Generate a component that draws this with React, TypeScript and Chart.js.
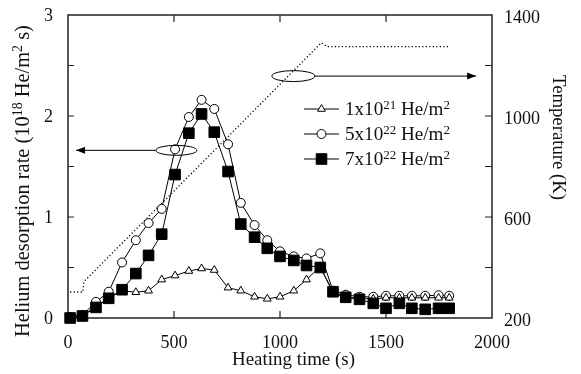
import React, { useEffect, useRef } from 'react';
import { Chart, registerables } from 'chart.js';

Chart.register(...registerables);

// Heating time (s) at which each desorption point was measured
const times = [10, 68, 132, 192, 255, 320, 380, 442, 505, 570, 630, 690, 755, 815, 880, 940, 1000, 1065, 1125, 1190, 1250, 1310, 1375, 1440, 1500, 1563, 1622, 1685, 1748, 1798];

// Helium desorption rate (10^18 He/m^2 s)
const lowFluence = [0.01, 0.03, 0.11, 0.2, 0.27, 0.255, 0.27, 0.38, 0.42, 0.465, 0.49, 0.475, 0.3, 0.27, 0.21, 0.19, 0.21, 0.27, 0.38, 0.51, 0.25, 0.2, 0.2, 0.19, 0.2, 0.2, 0.2, 0.2, 0.2, 0.2];
const midFluence = [0.01, 0.03, 0.16, 0.26, 0.55, 0.77, 0.94, 1.08, 1.67, 1.99, 2.16, 2.07, 1.72, 1.14, 0.92, 0.77, 0.66, 0.61, 0.59, 0.64, 0.27, 0.23, 0.21, 0.21, 0.22, 0.22, 0.22, 0.22, 0.225, 0.22];
const highFluence = [0.0, 0.02, 0.105, 0.195, 0.28, 0.44, 0.62, 0.83, 1.42, 1.83, 2.02, 1.84, 1.45, 0.93, 0.8, 0.69, 0.61, 0.57, 0.52, 0.5, 0.26, 0.205, 0.185, 0.145, 0.096, 0.145, 0.096, 0.086, 0.096, 0.096];

// Temperature (K) profile
const tempTimes = [10, 70, 75, 1195, 1222, 1795];
const tempValues = [303, 303, 344, 1290, 1275, 1275];

// Legend entries: [base, superscript, base, superscript]
const legendLabels = [
  ['1x10', '21', ' He/m', '2'],
  ['5x10', '22', ' He/m', '2'],
  ['7x10', '22', ' He/m', '2'],
];

const xTitle = 'Heating time (s)';
const yTitleParts = [['Helium desorption rate (10', false], ['18', true], [' He/m', false], ['2', true], [' s)', false]];
const y2Title = 'Temperature (K)';

// Annotation anchors (data units)
const leftMarker = { x: 511, y: 1.66, arrowTo: 38 };
const rightMarker = { x: 1063, y: 1158, arrowTo: 1925 };

const FONT = '"Liberation Serif", "Times New Roman", serif';
const INK = '#111';
const SUP = 0.68;

type Part = [string, boolean];

function richWidth(ctx: CanvasRenderingContext2D, parts: Part[], size: number) {
  let w = 0;
  for (const [t, sup] of parts) {
    ctx.font = `${sup ? size * SUP : size}px ${FONT}`;
    w += ctx.measureText(t).width;
  }
  return w;
}

// font size that makes the rich text span the wanted width
function fitSize(ctx: CanvasRenderingContext2D, parts: Part[], target: number) {
  const w = richWidth(ctx, parts, 20);
  return (20 * target) / w;
}

function drawRich(ctx: CanvasRenderingContext2D, parts: Part[], x: number, y: number, size: number) {
  let cx = x;
  ctx.textBaseline = 'alphabetic';
  ctx.textAlign = 'left';
  for (const [t, sup] of parts) {
    ctx.font = `${sup ? size * SUP : size}px ${FONT}`;
    ctx.fillText(t, cx, sup ? y - size * 0.33 : y);
    cx += ctx.measureText(t).width;
  }
}

function drawMarker(ctx: CanvasRenderingContext2D, style: string, x: number, y: number, r: number, fill: string) {
  ctx.beginPath();
  if (style === 'circle') {
    ctx.arc(x, y, r, 0, Math.PI * 2);
  } else if (style === 'rect') {
    const s = Math.SQRT1_2 * r;
    ctx.rect(x - s, y - s, 2 * s, 2 * s);
  } else {
    let rad = 0;
    ctx.moveTo(x + Math.sin(rad) * r, y - Math.cos(rad) * r);
    rad += (2 * Math.PI) / 3;
    ctx.lineTo(x + Math.sin(rad) * r, y - Math.cos(rad) * r);
    rad += (2 * Math.PI) / 3;
    ctx.lineTo(x + Math.sin(rad) * r, y - Math.cos(rad) * r);
    ctx.closePath();
  }
  ctx.fillStyle = fill;
  ctx.fill();
  ctx.lineWidth = 1;
  ctx.strokeStyle = '#000';
  ctx.stroke();
}

function arrow(ctx: CanvasRenderingContext2D, x0: number, x1: number, y: number) {
  ctx.beginPath();
  ctx.moveTo(x0, y);
  ctx.lineTo(x1, y);
  ctx.lineWidth = 1;
  ctx.strokeStyle = '#000';
  ctx.stroke();
  const dir = x1 > x0 ? 1 : -1;
  ctx.beginPath();
  ctx.moveTo(x1, y);
  ctx.lineTo(x1 - dir * 9, y - 3.5);
  ctx.lineTo(x1 - dir * 9, y + 3.5);
  ctx.closePath();
  ctx.fillStyle = '#000';
  ctx.fill();
}

const framePlugin = {
  id: 'frameAndDecor',
  beforeDatasetsDraw(chart: any) {
    const { ctx, chartArea: a, scales } = chart;
    ctx.save();
    ctx.strokeStyle = '#222';
    ctx.lineWidth = 1.5;
    ctx.strokeRect(a.left, a.top, a.right - a.left, a.bottom - a.top);
    ctx.lineWidth = 1.2;
    ctx.beginPath();
    for (let v = 0.5; v < 3; v += 0.5) {
      const y = scales.y.getPixelForValue(v);
      ctx.moveTo(a.left, y);
      ctx.lineTo(a.left + 6, y);
    }
    for (let v = 400; v < 1400; v += 200) {
      const y = scales.y2.getPixelForValue(v);
      ctx.moveTo(a.right, y);
      ctx.lineTo(a.right - 7, y);
    }
    for (let v = 500; v < 2000; v += 500) {
      const x = scales.x.getPixelForValue(v);
      ctx.moveTo(x, a.bottom);
      ctx.lineTo(x, a.bottom - 7);
      ctx.moveTo(x, a.top);
      ctx.lineTo(x, a.top + 7);
    }
    ctx.stroke();
    ctx.restore();
  },
  afterDatasetsDraw(chart: any) {
    const { ctx, scales } = chart;
    ctx.save();
    ctx.fillStyle = INK;

    // axis titles
    const xParts: Part[] = [[xTitle, false]];
    const xs = fitSize(ctx, xParts, 123);
    const xw = richWidth(ctx, xParts, xs);
    drawRich(ctx, xParts, 293.5 - xw / 2, 365, xs);

    ctx.save();
    ctx.translate(28.5, 181);
    ctx.rotate(-Math.PI / 2);
    const yParts = yTitleParts as Part[];
    const ys = fitSize(ctx, yParts, 312);
    const yw = richWidth(ctx, yParts, ys);
    drawRich(ctx, yParts, -yw / 2, 0, ys);
    ctx.restore();

    ctx.save();
    ctx.translate(553, 137.5);
    ctx.rotate(Math.PI / 2);
    const rParts: Part[] = [[y2Title, false]];
    const rs = fitSize(ctx, rParts, 125);
    const rw = richWidth(ctx, rParts, rs);
    drawRich(ctx, rParts, -rw / 2, 0, rs);
    ctx.restore();

    // annotation ellipses with arrows
    const lx = scales.x.getPixelForValue(leftMarker.x);
    const ly = scales.y.getPixelForValue(leftMarker.y);
    ctx.beginPath();
    ctx.ellipse(lx, ly, 20.5, 5, 0, 0, Math.PI * 2);
    ctx.lineWidth = 1;
    ctx.strokeStyle = '#000';
    ctx.stroke();
    arrow(ctx, lx - 20.5, scales.x.getPixelForValue(leftMarker.arrowTo), ly);

    const rx = scales.x.getPixelForValue(rightMarker.x);
    const ry = scales.y2.getPixelForValue(rightMarker.y);
    ctx.beginPath();
    ctx.ellipse(rx, ry, 21.5, 5.5, 0, 0, Math.PI * 2);
    ctx.stroke();
    arrow(ctx, rx + 21.5, scales.x.getPixelForValue(rightMarker.arrowTo), ry);

    // legend
    const styles = [['triangle', '#fff', 4.5], ['circle', '#fff', 4.5], ['rect', '#000', 7.5]] as const;
    const rows = [109, 134, 159];
    const legParts = (lab: string[]): Part[] => [[lab[0], false], [lab[1], true], [lab[2], false], [lab[3], true]];
    const ls = fitSize(ctx, legParts(legendLabels[0]), 105);
    legendLabels.forEach((lab, i) => {
      const y = rows[i];
      ctx.beginPath();
      ctx.moveTo(304, y);
      ctx.lineTo(339, y);
      ctx.lineWidth = 1;
      ctx.strokeStyle = '#000';
      ctx.stroke();
      drawMarker(ctx, styles[i][0], 321.5, y, styles[i][2], styles[i][1]);
      ctx.fillStyle = INK;
      drawRich(ctx, legParts(lab), 345, y + 6, ls);
    });
    ctx.restore();
  },
};

const zeroPad = (s: any) => {
  s.paddingTop = 0;
  s.paddingBottom = 0;
  s.paddingLeft = 0;
  s.paddingRight = 0;
};

export default function App() {
  const canvasRef = useRef<HTMLCanvasElement | null>(null);

  useEffect(() => {
    document.body.style.margin = '0';
    const canvas = canvasRef.current;
    if (!canvas) return;
    const toPts = (vals: number[]) => times.map((t, i) => ({ x: t, y: vals[i] }));
    const tickFont = { family: FONT, size: 18 };
    const plain = (v: any) => String(v);
    const chart = new Chart(canvas, {
      type: 'line',
      data: {
        datasets: [
          {
            label: '7x10^22 He/m^2',
            data: toPts(highFluence),
            yAxisID: 'y',
            borderColor: '#000',
            borderWidth: 1,
            pointStyle: 'rect',
            pointRadius: 7.5,
            pointBackgroundColor: '#000',
            pointBorderColor: '#000',
            pointBorderWidth: 1,
            tension: 0,
            clip: false,
            order: 0,
          },
          {
            label: '1x10^21 He/m^2',
            data: toPts(lowFluence),
            yAxisID: 'y',
            borderColor: '#000',
            borderWidth: 1,
            pointStyle: 'triangle',
            pointRadius: 4.5,
            pointBackgroundColor: '#fff',
            pointBorderColor: '#000',
            pointBorderWidth: 1,
            tension: 0,
            clip: false,
            order: 1,
          },
          {
            label: '5x10^22 He/m^2',
            data: toPts(midFluence),
            yAxisID: 'y',
            borderColor: '#000',
            borderWidth: 1,
            pointStyle: 'circle',
            pointRadius: 4.5,
            pointBackgroundColor: '#fff',
            pointBorderColor: '#000',
            pointBorderWidth: 1,
            tension: 0,
            clip: false,
            order: 2,
          },
          {
            label: 'Temperature',
            data: tempTimes.map((t, i) => ({ x: t, y: tempValues[i] })),
            yAxisID: 'y2',
            borderColor: '#000',
            borderWidth: 1.3,
            borderDash: [1.2, 2.3],
            pointRadius: 0,
            tension: 0,
            clip: false,
            order: 3,
          },
        ],
      },
      options: {
        responsive: false,
        animation: false,
        layout: { padding: { top: 15, left: 0, right: 0, bottom: 0 } },
        plugins: { legend: { display: false }, tooltip: { enabled: false } },
        scales: {
          x: {
            type: 'linear',
            min: 0,
            max: 2000,
            ticks: { stepSize: 500, font: tickFont, color: INK, padding: 14, maxRotation: 0, autoSkip: false, callback: plain },
            grid: { display: false, drawTicks: false },
            border: { display: false },
            afterFit: (s: any) => { s.height = 56; zeroPad(s); },
          },
          y: {
            type: 'linear',
            position: 'left',
            min: 0,
            max: 3,
            ticks: { stepSize: 1, font: tickFont, color: INK, padding: 15, labelOffset: 1, callback: plain },
            grid: { display: false, drawTicks: false },
            border: { display: false },
            afterFit: (s: any) => { s.width = 68; zeroPad(s); },
          },
          y2: {
            type: 'linear',
            position: 'right',
            min: 200,
            max: 1400,
            ticks: { stepSize: 400, font: tickFont, color: INK, padding: 12, labelOffset: 3, callback: plain },
            grid: { display: false, drawTicks: false },
            border: { display: false },
            afterFit: (s: any) => { s.width = 89; zeroPad(s); },
          },
        },
      } as any,
      plugins: [framePlugin],
    });
    return () => chart.destroy();
  }, []);

  return (
    <div style={{ width: 581, height: 374 }}>
      <canvas ref={canvasRef} width={581} height={374} style={{ display: 'block' }} />
    </div>
  );
}
